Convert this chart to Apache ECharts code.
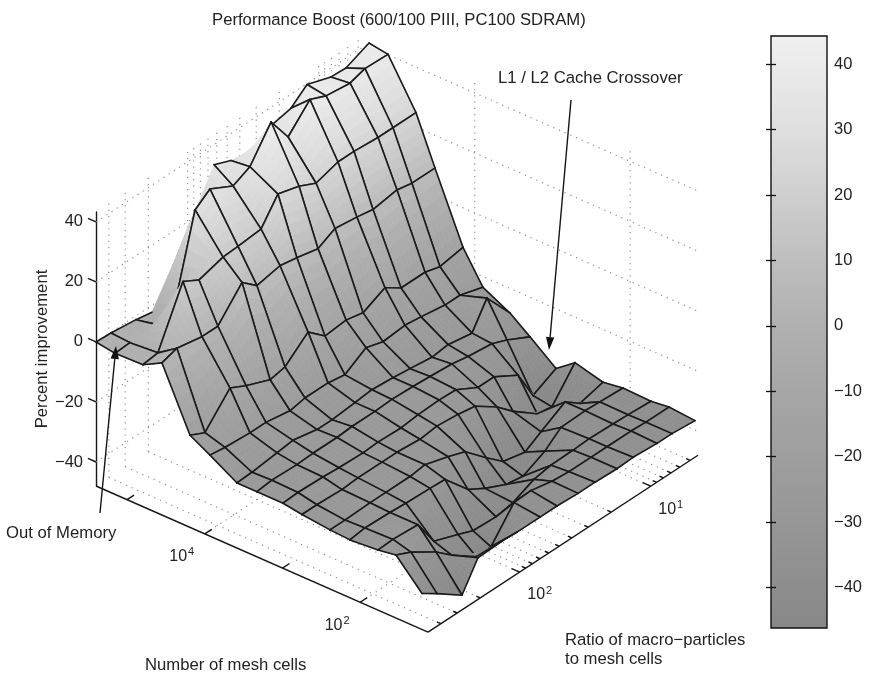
<!DOCTYPE html>
<html><head><meta charset="utf-8">
<style>html,body{margin:0;padding:0;background:#fff}#c{width:870px;height:675px}</style>
<script src="https://cdn.jsdelivr.net/npm/echarts@6/dist/echarts.min.js"></script>
</head><body><div id="c"></div>
<script>
// log10(number of mesh cells) per grid row, log10(ratio) per grid column
const logCells = [5.40,5.155,4.795,4.551,4.190,3.933,3.585,3.328,2.993,2.749,2.388,2.131,1.771,1.539,1.204];
const logRatio = [2.70,2.586,2.395,2.273,2.089,1.975,1.799,1.670,1.509,1.379,1.212,1.089,0.906,0.792,0.616];
// percent improvement, one list per mesh-cell row
const row0  = [0,-0.3,-1.3,-2.3,10.7,19.3,33.3,31,30,33.7,35.3,39.7,37,36.7,40];
const row1  = [-1,-0.7,0,-3,29.3,33,29,31.7,42,33.3,41,38.7,37.7,39.3,39];
const row2  = [-0.7,0,18.3,15.3,17.7,18,18.7,26.7,24.7,22,24.3,24.3,23.7,23.7,23.7];
const row3  = [2.7,4.3,2.7,2.7,12,7.7,9.3,8.3,6.7,9.7,8.7,7.7,9,8,8];
const row4  = [-17.3,-19.7,-10.3,-13,-16.3,-15.3,-8.7,-13.7,-13,-14.3,-10.7,-14.3,-14.3,-15.7,-14.3];
const row5  = [-21,-21.7,-22.3,-22.3,-23.7,-22.7,-22.7,-23.7,-19.3,-21,-20.3,-21,-22.3,-22.3,-24.7];
const row6  = [-26.3,-26,-25,-24.3,-26,-26,-25.3,-24.7,-25.3,-26,-27,-26.3,-27.7,-19.3,-29.3];
const row7  = [-26.3,-25.7,-26,-25.7,-25.7,-25.3,-25.3,-25,-25.3,-25.7,-26.3,-27.3,-28.3,-30.3,-34.3];
const row8  = [-26.3,-26,-26.3,-26.7,-27,-26.7,-27,-26.3,-26,-26.3,-30.3,-30.3,-35,-45,-41];
const row9  = [-27.3,-27.3,-27.7,-27.3,-27.3,-27.3,-28,-27.3,-28,-29,-34,-39,-45,-46,-36.3];
const row10 = [-28.3,-28.3,-28,-28,-28,-27.3,-29.7,-31.7,-38.3,-43.3,-45,-41.7,-37,-40.7,-38.7];
const row11 = [-28.7,-28,-28.3,-28.7,-29,-29.3,-37.7,-41,-44.3,-45.3,-41.7,-37.3,-37,-37.3,-37.7];
const row12 = [-28,-27.7,-28.3,-37.3,-40.3,-42.3,-42.7,-41.7,-38.5,-37.5,-37.3,-37,-37.3,-37.5,-38];
const row13 = [-27,-29.3,-34.7,-39.3,-45,-45,-35.3,-35,-36.5,-37,-37,-37,-37,-37.3,-37.3];
const row14 = [-36,-39.3,-45.3,-36.3,-36,-36.3,-36.3,-36.3,-36.7,-36.7,-37,-36.7,-37.3,-37.3,-38];
const zRows = [row0,row1,row2,row3,row4,row5,row6,row7,row8,row9,row10,row11,row12,row13,row14];
// mesh segments the original does not outline
const unlinedRowSegs = ['0:3','0:4','0:5','0:7','0:8','1:1','1:2'];
const unlinedRibSegs = ['0:3','0:4','0:5','0:8','0:9','1:2','1:3'];
// axes
const zTicks = [-40,-20,0,20,40];
const cellTicks = [5,4,3,2];
const cellGrid = [4,2];
const cellLabels = [4,2];
const ratioMajor = [100,10];
const ratioMinor = [400,300,200,90,80,70,60,50,40,30,20,9,8,7,6,5];
const ratioLabels = [2,1];
const cbarTicks = [-40,-30,-20,-10,0,10,20,30,40];
const colorZ = [-46.2,-30,-20,-10,0,10,20,30,44.3];
const colorG = [0x88,0x96,0x9e,0xa6,0xb0,0xbe,0xcf,0xdf,0xf0];

const Z_MIN=-48, Z_MAX=43.3, CELL_HI=5.4, CELL_LO=1.127, RATIO_HI=2.7, RATIO_LO=0.639;
const PX_DEC_CELL=77.7, PX_DEC_RATIO=131, SLOPE_A=0.44, SLOPE_B=0.655, PX_Z=3;
function gray(z){
  let k=0; while(k<colorZ.length-2 && z>colorZ[k+1]) k++;
  const t=Math.max(0,Math.min(1,(z-colorZ[k])/(colorZ[k+1]-colorZ[k])));
  const g=Math.round(colorG[k]+t*(colorG[k+1]-colorG[k]));
  return 'rgb('+g+','+g+','+g+')';
}
function proj(api,lc,lr,z,dA,dB){
  const A=(CELL_HI-lc)*PX_DEC_CELL+(dA||0), B=(RATIO_HI-lr)*PX_DEC_RATIO+(dB||0);
  return api.coord([A+B, z+(-SLOPE_A*A+SLOPE_B*B)/PX_Z]);
}
const DOT={stroke:'#858585',lineWidth:1.1,lineDash:[1.2,5]};
const SOLID={stroke:'#151515',lineWidth:1.4};
function seg(p,q,style){return {type:'line',shape:{x1:p[0],y1:p[1],x2:q[0],y2:q[1]},style:style};}

function renderWalls(params,api){
  const ch=[];
  const add=(a,b)=>ch.push(seg(a,b,DOT));
  const ratios=ratioMajor.concat(ratioMinor).map(Math.log10);
  zTicks.forEach(z=>{
    add(proj(api,CELL_HI,RATIO_HI,z),proj(api,CELL_HI,RATIO_LO,z));
    add(proj(api,CELL_HI,RATIO_LO,z),proj(api,CELL_LO,RATIO_LO,z));
  });
  ratios.forEach(r=>{
    add(proj(api,CELL_HI,r,Z_MIN),proj(api,CELL_HI,r,Z_MAX));
    add(proj(api,CELL_HI,r,Z_MIN),proj(api,CELL_LO,r,Z_MIN));
  });
  cellGrid.forEach(c=>{
    add(proj(api,c,RATIO_LO,Z_MIN),proj(api,c,RATIO_LO,Z_MAX));
    add(proj(api,c,RATIO_HI,Z_MIN),proj(api,c,RATIO_LO,Z_MIN));
  });
  return {type:'group',children:ch};
}
function renderFrame(params,api){
  const ch=[];
  ch.push(seg(proj(api,CELL_HI,RATIO_HI,Z_MIN),proj(api,CELL_LO,RATIO_HI,Z_MIN),SOLID));
  ch.push(seg(proj(api,CELL_LO,RATIO_HI,Z_MIN),proj(api,CELL_LO,RATIO_LO,Z_MIN),SOLID));
  zTicks.forEach(z=>ch.push(seg(proj(api,CELL_HI,RATIO_HI,z),proj(api,CELL_HI,RATIO_HI,z,-8,0),SOLID)));
  cellTicks.forEach(c=>ch.push(seg(proj(api,c,RATIO_HI,Z_MIN),proj(api,c,RATIO_HI,Z_MIN,0,7),SOLID)));
  ratioMajor.forEach(r=>{const l=Math.log10(r);ch.push(seg(proj(api,CELL_LO,l,Z_MIN),proj(api,CELL_LO,l,Z_MIN,-8,0),SOLID));});
  ratioMinor.forEach(r=>{const l=Math.log10(r);ch.push(seg(proj(api,CELL_LO,l,Z_MIN),proj(api,CELL_LO,l,Z_MIN,-4,0),SOLID));});
  const lab=(p,dx,dy,e)=>ch.push({type:'text',x:p[0]+dx,y:p[1]+dy,style:{text:'10{s|'+e+'}',fill:'#222',font:'16px "Liberation Sans"',align:'center',verticalAlign:'middle',rich:{s:{fontSize:11,verticalAlign:'top',padding:[0,0,9,1],font:'11px "Liberation Sans"'}}}});
  cellLabels.forEach(e=>lab(proj(api,e,RATIO_HI,Z_MIN),-23,23,e));
  ratioLabels.forEach(e=>lab(proj(api,CELL_LO,e,Z_MIN),20,23,e));
  return {type:'group',children:ch};
}
const SUB=6;
function renderCell(params,api){
  const i=api.value(0), j=api.value(1), ch=[];
  const zz=(u,v)=>{
    const a=zRows[i][j],b=zRows[i][j+1],c=zRows[i+1][j],d=zRows[i+1][j+1];
    return a*(1-u)*(1-v)+b*(1-u)*v+c*u*(1-v)+d*u*v;
  };
  const pt=(u,v)=>proj(api,logCells[i]+(logCells[i+1]-logCells[i])*u,logRatio[j]+(logRatio[j+1]-logRatio[j])*v,zz(u,v));
  for(let m=0;m<SUB;m++)for(let n=0;n<SUB;n++){
    const u0=m/SUB,u1=(m+1)/SUB,v0=n/SUB,v1=(n+1)/SUB;
    const col=gray(zz((u0+u1)/2,(v0+v1)/2));
    ch.push({type:'polygon',shape:{points:[pt(u0,v0),pt(u0,v1),pt(u1,v1),pt(u1,v0)]},style:{fill:col,stroke:col,lineWidth:0.7}});
  }
  const L={stroke:'#1a1a1a',lineWidth:1.6,lineCap:'round'};
  const P=(a,b)=>proj(api,logCells[a],logRatio[b],zRows[a][b]);
  const edge=(a,b,a2,b2)=>ch.push(seg(P(a,b),P(a2,b2),L));
  if(unlinedRowSegs.indexOf(i+':'+j)<0) edge(i,j,i,j+1);
  if(unlinedRowSegs.indexOf((i+1)+':'+j)<0) edge(i+1,j,i+1,j+1);
  if(unlinedRibSegs.indexOf(i+':'+j)<0) edge(i,j,i+1,j);
  if(unlinedRibSegs.indexOf(i+':'+(j+1))<0) edge(i,j+1,i+1,j+1);
  return {type:'group',children:ch};
}
function renderCbar(params,api){
  const a=api.coord([0,colorZ[colorZ.length-1]]), b=api.coord([1,colorZ[0]]);
  const top=colorZ[colorZ.length-1], low=colorZ[0];
  const stops=colorZ.map(z=>({offset:(top-z)/(top-low),color:gray(z)})).reverse();
  return {type:'rect',shape:{x:a[0],y:a[1],width:b[0]-a[0],height:b[1]-a[1]},
    style:{fill:new echarts.graphic.LinearGradient(0,0,0,1,stops),stroke:'#111',lineWidth:1.4}};
}
const cellsData=[];
for(let i=0;i<logCells.length-1;i++)for(let j=logRatio.length-2;j>=0;j--)cellsData.push([i,j]);

const FONT='"Liberation Sans"';
function txt(x,y,s,o){return {type:'text',x:x,y:y,z:50,style:Object.assign({text:s,fill:'#222',font:'16.7px '+FONT,verticalAlign:'middle'},o||{})};}
function arrow(x1,y1,x2,y2){
  const d=Math.hypot(x2-x1,y2-y1),ux=(x2-x1)/d,uy=(y2-y1)/d,bx=x2-ux*13,by=y2-uy*13;
  return [{type:'line',z:50,shape:{x1:x1,y1:y1,x2:bx,y2:by},style:{stroke:'#151515',lineWidth:1.4}},
    {type:'polygon',z:50,shape:{points:[[x2,y2],[bx-uy*4.2,by+ux*4.2],[bx+uy*4.2,by-ux*4.2]]},style:{fill:'#111'}}];
}
const chart=echarts.init(document.getElementById('c'),null,{renderer:'canvas'});
chart.setOption({
  animation:false,backgroundColor:'#fff',
  grid:[{left:96,top:212,width:774,height:274},{left:771,top:36,width:56,height:592}],
  xAxis:[{type:'value',gridIndex:0,min:0,max:774,show:false},{type:'value',gridIndex:1,min:0,max:1,show:false}],
  yAxis:[
    {type:'value',gridIndex:0,min:Z_MIN,max:Z_MAX,position:'left',splitLine:{show:false},
      axisLine:{show:true,onZero:false,lineStyle:{color:'#151515',width:1.4}},axisTick:{show:false},
      axisLabel:{customValues:zTicks,margin:13,color:'#222',fontFamily:FONT,fontSize:16.5,formatter:v=>String(v).replace('-','\u2212')},
      name:'Percent improvement',nameLocation:'middle',nameGap:45,nameRotate:90,nameMoveOverlap:false,
      nameTextStyle:{color:'#222',fontFamily:FONT,fontSize:16.7}},
    {type:'value',gridIndex:1,min:colorZ[0],max:colorZ[colorZ.length-1],position:'right',splitLine:{show:false},
      axisLine:{show:false},axisTick:{show:true,inside:true,length:5,customValues:cbarTicks,lineStyle:{color:'#111',width:1.3}},
      axisLabel:{customValues:cbarTicks,margin:7,color:'#222',fontFamily:FONT,fontSize:16.5,formatter:v=>String(v).replace('-','\u2212')},z:5},
    {type:'value',gridIndex:1,min:colorZ[0],max:colorZ[colorZ.length-1],position:'left',splitLine:{show:false},
      axisLine:{show:false},axisTick:{show:true,inside:true,length:5,customValues:cbarTicks,lineStyle:{color:'#111',width:1.3}},
      axisLabel:{show:false},z:5}
  ],
  series:[
    {type:'custom',name:'walls',coordinateSystem:'cartesian2d',xAxisIndex:0,yAxisIndex:0,data:[[0,0]],renderItem:renderWalls,silent:true,z:1},
    {type:'custom',name:'surface',coordinateSystem:'cartesian2d',xAxisIndex:0,yAxisIndex:0,data:cellsData,renderItem:renderCell,silent:true,z:2,progressive:0},
    {type:'custom',name:'frame',coordinateSystem:'cartesian2d',xAxisIndex:0,yAxisIndex:0,data:[[0,0]],renderItem:renderFrame,silent:true,z:3},
    {type:'custom',name:'colorbar',coordinateSystem:'cartesian2d',xAxisIndex:1,yAxisIndex:1,data:[[0,0]],renderItem:renderCbar,silent:true,z:1}
  ],
  graphic:[
    txt(212,20,'Performance Boost (600/100 PIII, PC100 SDRAM)'),
    txt(498,78,'L1 / L2 Cache Crossover'),
    txt(6,533,'Out of Memory'),
    txt(145,665,'Number of mesh cells'),
    txt(565,640,'Ratio of macro\u2212particles'),
    txt(565,659,'to mesh cells')
  ].concat(arrow(571,100,549,350),arrow(100,513,116,346))
});
</script></body></html>
